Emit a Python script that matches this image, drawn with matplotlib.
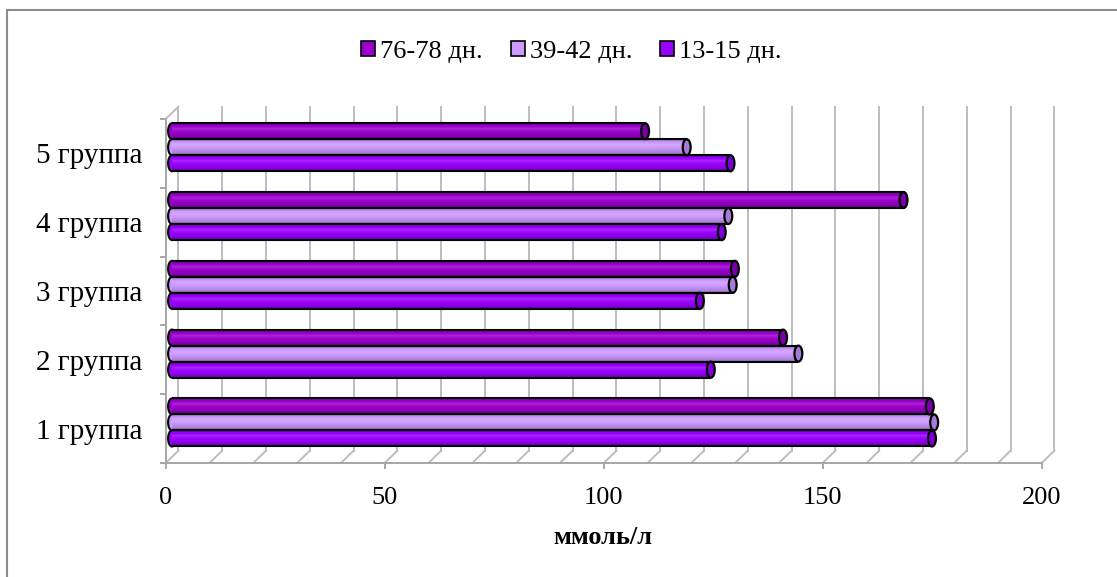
import numpy as np
import matplotlib
matplotlib.use('Agg')
import matplotlib.pyplot as plt
from matplotlib.patches import Ellipse, Patch
from matplotlib.lines import Line2D

plt.rcParams['font.family'] = 'serif'
plt.rcParams['font.serif'] = ['Liberation Serif', 'Times New Roman', 'DejaVu Serif']
plt.rcParams['font.size'] = 19

# ------------------------------ DATA ------------------------------
groups = ['1 группа', '2 группа', '3 группа', '4 группа', '5 группа']
series = ['76-78 дн.', '39-42 дн.', '13-15 дн.']
d76_78 = [173, 139.5, 128.5, 167, 108]
d39_42 = [174, 143, 128, 127, 117.5]
d13_15 = [173.5, 123, 120.5, 125.5, 127.5]

# ------------------------------ STYLE ------------------------------
colors = {'76-78 дн.': '#9a00cc', '39-42 дн.': '#cc99ff', '13-15 дн.': '#9900ff'}
caps = {'76-78 дн.': '#7a00a8', '39-42 дн.': '#a57ad8', '13-15 дн.': '#7d00d8'}
grid = '#bdbdbd'
W, H = 1117, 577

# depth of the pseudo-3D box in data units (x: value, y: category)
DX, DY = 2.9, 0.179
bh = 0.233          # bar (cylinder) thickness
ncut = 16           # slices used for cylinder shading

def shade(c, m):
    c = np.array(matplotlib.colors.to_rgb(c))
    if m <= 1:
        return c * m
    return c + (1 - c) * (m - 1)

prof_t = [0, 0.15, 0.45, 0.65, 0.85, 1.0]
prof_m = [0.6, 0.84, 1.0, 1.14, 0.93, 0.7]

fig = plt.figure(figsize=(W/100, H/100), dpi=100)
ax = fig.add_axes([165.7/W, 114/H, 876/W, 344/H])
ax.set_xlim(0, 200)
ax.set_ylim(0, 5)

# back wall and floor lines
for v in range(0, 201, 10):
    ax.plot([v, v+DX], [0, DY], color=grid, lw=1.4, clip_on=False, zorder=1)
    ax.plot([v+DX, v+DX], [DY, 5+DY], color=grid, lw=1.4, clip_on=False, zorder=1)
ax.plot([0, DX], [5, 5+DY], color=grid, lw=1.4, clip_on=False, zorder=1)

# cylinders
y0 = np.arange(len(groups)) + 0.5 + DY/2
xs = DX/2
capw = 1.8
for k, (name, vals) in enumerate(zip(series, [d76_78, d39_42, d13_15])):
    yc = y0 + (1 - k) * bh
    for yy, v in zip(yc, vals):
        # rounded left end
        ax.add_patch(Ellipse((xs, yy), capw, bh, facecolor=colors[name],
                             edgecolor='black', lw=1.5, zorder=3, clip_on=False))
        for j in range(ncut):
            t = (j + 0.5) / ncut
            m = np.interp(t, prof_t, prof_m)
            ax.barh(yy - bh/2 + j*bh/ncut, v, height=bh/ncut, left=xs, align='edge',
                    color=shade(colors[name], m), lw=0, zorder=4, clip_on=False)
        ax.hlines([yy - bh/2, yy + bh/2], xs, xs + v, color='black', lw=1.5,
                  zorder=5, clip_on=False)
        ax.add_patch(Ellipse((xs + v, yy), capw, bh, facecolor=caps[name],
                             edgecolor='black', lw=1.6, zorder=6, clip_on=False))

# axes
for s in ['top', 'right']:
    ax.spines[s].set_visible(False)
for s in ['left', 'bottom']:
    ax.spines[s].set_color('#a6a6a6')
    ax.spines[s].set_linewidth(1.4)
ax.set_xticks(range(0, 201, 50))
ax.tick_params(axis='x', direction='out', length=4, width=1.4, color='#a6a6a6', pad=13)
ax.set_yticks(np.arange(len(groups)) + 0.5)
ax.set_yticklabels(groups, fontsize=21)
ax.tick_params(axis='y', which='major', length=0, pad=17)
ax.set_yticks(np.arange(0, 6), minor=True)
ax.tick_params(axis='y', which='minor', direction='out', length=4.5, width=1.4, color='#a6a6a6')
ax.set_facecolor('none')

fig.text(603/W, 1 - 537/H, 'ммоль/л', ha='center', va='center', fontweight='bold')

handles = [Patch(facecolor=colors[s], edgecolor='black', lw=1.2) for s in series]
fig.legend(handles, series, loc='center', bbox_to_anchor=(571.5/W, 1 - 52/H), ncol=3,
           frameon=False, handlelength=0.52, handleheight=0.52, handletextpad=0.2,
           columnspacing=1.05, borderpad=0)

# chart frame
fig.add_artist(Line2D([6.5/W, 1], [1 - 10/H, 1 - 10/H], color='#8c8c8c', lw=1.5))
fig.add_artist(Line2D([6.5/W, 6.5/W], [0, 1 - 10/H], color='#8c8c8c', lw=1.5))

fig.savefig('out.png', dpi=100)
